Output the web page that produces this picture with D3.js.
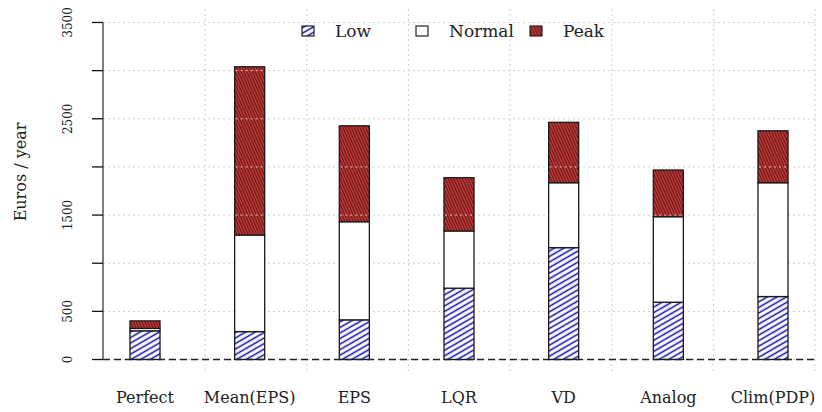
<!DOCTYPE html>
<html><head><meta charset="utf-8">
<script src="https://cdn.jsdelivr.net/npm/d3@7"></script>
<style>body{margin:0;background:#fff}svg{display:block}</style>
</head><body><svg id="c" width="822" height="412"></svg>
<script>
const categories = ["Perfect","Mean(EPS)","EPS","LQR","VD","Analog","Clim(PDP)"];
const series = ["Low","Normal","Peak"];
const lowVals    = [298, 290, 412, 741, 1162, 595, 654];
const normalVals = [25, 1003, 1019, 594, 674, 888, 1182];
const peakVals   = [78, 1747, 996, 553, 627, 485, 539];
const yTicks = [0,500,1000,1500,2000,2500,3000,3500];
const yTickLabels = ["0","500","","1500","","2500","","3500"];

const svg = d3.select("#c");
const font = "'DejaVu Serif', serif";
const plot = {l:103, r:815, t:9, b:373};
const y = d3.scaleLinear().domain([-140, 3640]).range([plot.b, plot.t]);
const x = d3.scaleBand().domain(categories).range([92.67, 825.33]).paddingInner(0.713).paddingOuter(0.3565);
const gx = d3.scaleLinear().domain([0,7]).range([plot.l+0.5, plot.r]);

const defs = svg.append("defs");
const pl = defs.append("pattern").attr("id","pLow").attr("patternUnits","userSpaceOnUse")
  .attr("width",10).attr("height",4.8).attr("patternTransform","rotate(-30)");
pl.append("rect").attr("width",10).attr("height",4.8).attr("fill","#fff");
pl.append("line").attr("x1",0).attr("x2",10).attr("y1",2.4).attr("y2",2.4).attr("stroke","#0c0ca8").attr("stroke-width",1.5);
const pp = defs.append("pattern").attr("id","pPeak").attr("patternUnits","userSpaceOnUse")
  .attr("width",10).attr("height",2.6).attr("patternTransform","rotate(66)");
pp.append("rect").attr("width",10).attr("height",2.6).attr("fill","#c03838");
pp.append("line").attr("x1",0).attr("x2",10).attr("y1",1.3).attr("y2",1.3).attr("stroke","#601414").attr("stroke-width",1);

// grid
const grid = svg.append("g").attr("stroke","#cfcfcf").attr("stroke-dasharray","2,3").attr("stroke-width",1);
yTicks.forEach(t=>grid.append("line").attr("x1",plot.l).attr("x2",plot.r).attr("y1",y(t)).attr("y2",y(t)));
d3.range(1,8).forEach(i=>grid.append("line").attr("x1",gx(i)).attr("x2",gx(i)).attr("y1",plot.t).attr("y2",plot.b));

// bars
const fills = ["url(#pLow)","#fff","url(#pPeak)"];
const data = categories.map((c,i)=>({cat:c, Low:lowVals[i], Normal:normalVals[i], Peak:peakVals[i]}));
const stacked = d3.stack().keys(series)(data);
const bars = svg.append("g");
stacked.forEach((s,k)=>{
  bars.selectAll(null).data(s).join("rect")
    .attr("x",d=>x(d.data.cat)).attr("width",x.bandwidth())
    .attr("y",d=>y(d[1])).attr("height",d=>y(d[0])-y(d[1]))
    .attr("fill",fills[k]).attr("stroke","#1a1a1a").attr("stroke-width",1.3);
});
// gridlines showing through peak hatch
const peakS = stacked[2];
const over = svg.append("g").attr("stroke","#e6c4c4").attr("stroke-dasharray","2,3").attr("stroke-width",1);
peakS.forEach(d=>{
  yTicks.forEach(t=>{ if(t>d[0] && t<d[1]) over.append("line").attr("x1",x(d.data.cat)+1).attr("x2",x(d.data.cat)+x.bandwidth()-1).attr("y1",y(t)).attr("y2",y(t)); });
});

// baseline
svg.append("line").attr("x1",plot.l).attr("x2",plot.r).attr("y1",y(0)).attr("y2",y(0))
  .attr("stroke","#222").attr("stroke-width",1.3).attr("stroke-dasharray","7,4");

// y axis
const ya = svg.append("g");
ya.append("line").attr("x1",plot.l).attr("x2",plot.l).attr("y1",y(0)).attr("y2",y(3500)).attr("stroke","#555").attr("stroke-width",1.5);
yTicks.forEach((t,i)=>{
  ya.append("line").attr("x1",92).attr("x2",plot.l).attr("y1",y(t)).attr("y2",y(t)).attr("stroke","#111").attr("stroke-width",1.3);
  if(yTickLabels[i]) ya.append("text").attr("transform",`translate(72,${y(t)}) rotate(-90)`)
    .attr("text-anchor","middle").attr("font-family",font).attr("font-size",12).attr("fill","#222").text(yTickLabels[i]);
});
svg.append("text").attr("transform","translate(25.5,172) rotate(-90)").attr("text-anchor","middle")
  .attr("font-family",font).attr("font-size",16).attr("fill","#222").text("Euros / year");

// x labels
categories.forEach(c=>svg.append("text").attr("x",x(c)+x.bandwidth()/2).attr("y",403).attr("text-anchor","middle")
  .attr("font-family",font).attr("font-size",16).attr("fill","#222").text(c));

// legend
const legX = [302,416,530];
series.forEach((s,k)=>{
  svg.append("rect").attr("x",legX[k]).attr("y",26).attr("width",12).attr("height",10)
    .attr("fill",fills[k]).attr("stroke","#222").attr("stroke-width",1.2);
  svg.append("text").attr("x",legX[k]+33).attr("y",37).attr("font-family",font).attr("font-size",17).attr("fill","#222").text(s);
});
</script></body></html>
